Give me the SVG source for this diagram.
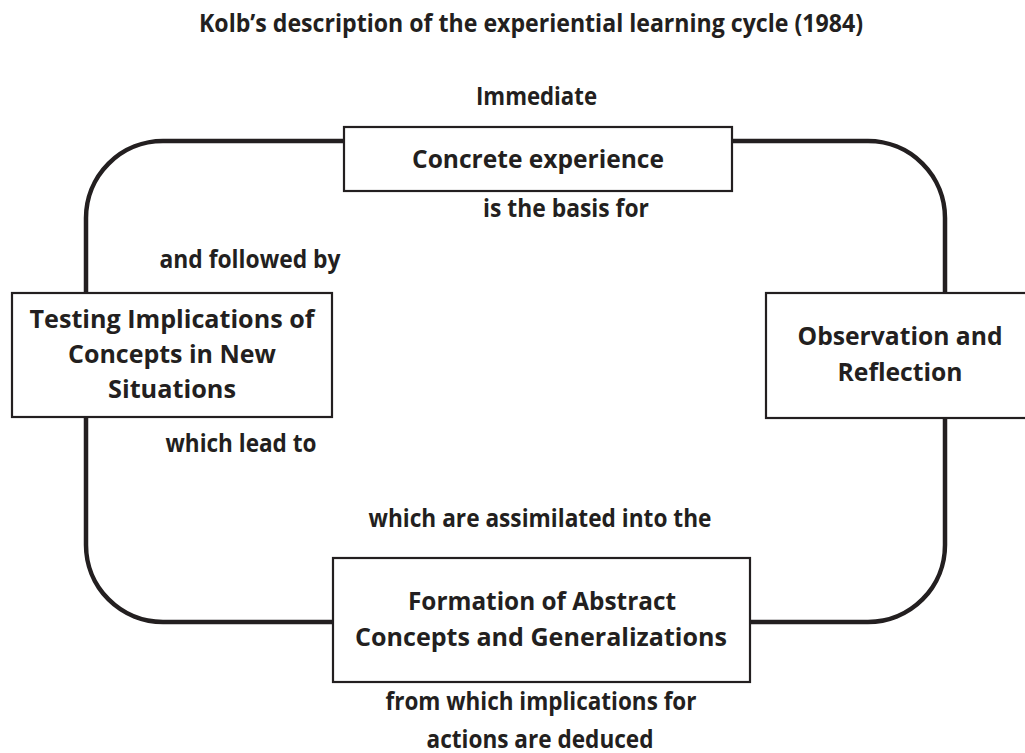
<svg xmlns="http://www.w3.org/2000/svg" width="1025" height="753" viewBox="0 0 1025 753">
<style>
text{font-family:"Open Sans",Lato,"Liberation Sans",sans-serif;font-weight:700;font-size:25px;fill:#231f20;text-anchor:middle}
.box{fill:#fff;stroke:#231f20;stroke-width:2.2}
.cycle{fill:none;stroke:#231f20;stroke-width:4.5}
</style>
<rect width="1025" height="753" fill="#fff"/>
<text x="531" y="32" textLength="664" lengthAdjust="spacingAndGlyphs">Kolb’s description of the experiential learning cycle (1984)</text>
<g id="connectors">
<rect class="cycle" x="86" y="141" width="859" height="481" rx="77" ry="77"/>
</g>
<g id="labels">
<text x="536.5" y="105" textLength="121" lengthAdjust="spacingAndGlyphs">Immediate</text>
<text x="566" y="217" textLength="166" lengthAdjust="spacingAndGlyphs">is the basis for</text>
<text x="250" y="268" textLength="181" lengthAdjust="spacingAndGlyphs">and followed by</text>
<text x="241" y="452" textLength="151" lengthAdjust="spacingAndGlyphs">which lead to</text>
<text x="540" y="527" textLength="343" lengthAdjust="spacingAndGlyphs">which are assimilated into the</text>
<text x="541" y="710" textLength="311" lengthAdjust="spacingAndGlyphs">from which implications for</text>
<text x="540" y="748" textLength="227" lengthAdjust="spacingAndGlyphs">actions are deduced</text>
</g>
<g id="concrete">
<rect class="box" x="344" y="127" width="388" height="64"/>
<text x="538" y="168" textLength="252" lengthAdjust="spacingAndGlyphs">Concrete experience</text>
</g>
<g id="observation">
<rect class="box" x="766" y="293" width="262" height="125"/>
<text x="900" y="345" textLength="205" lengthAdjust="spacingAndGlyphs">Observation and</text>
<text x="900" y="381" textLength="125" lengthAdjust="spacingAndGlyphs">Reflection</text>
</g>
<g id="formation">
<rect class="box" x="333" y="558" width="417" height="124"/>
<text x="542" y="610" textLength="268" lengthAdjust="spacingAndGlyphs">Formation of Abstract</text>
<text x="541" y="646" textLength="372" lengthAdjust="spacingAndGlyphs">Concepts and Generalizations</text>
</g>
<g id="testing">
<rect class="box" x="12" y="293" width="320" height="124"/>
<text x="172" y="328" textLength="285" lengthAdjust="spacingAndGlyphs">Testing Implications of</text>
<text x="172" y="363" textLength="208" lengthAdjust="spacingAndGlyphs">Concepts in New</text>
<text x="172" y="398" textLength="128" lengthAdjust="spacingAndGlyphs">Situations</text>
</g>
</svg>
